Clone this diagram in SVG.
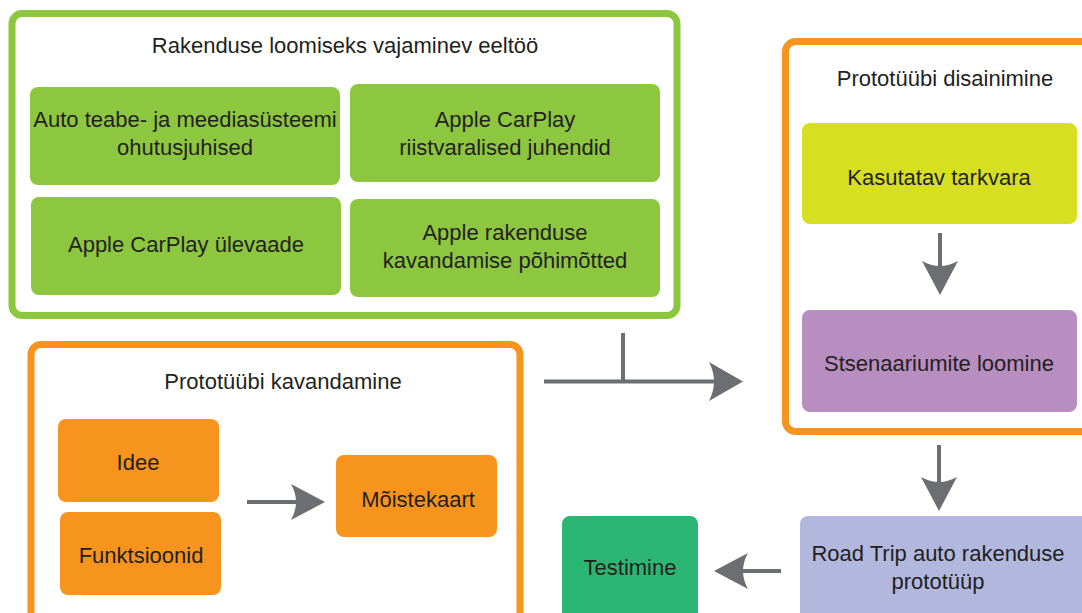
<svg xmlns="http://www.w3.org/2000/svg" width="1082" height="613" viewBox="0 0 1082 613">
<style>
text{font-family:"Liberation Sans",Arial,sans-serif;font-size:22px;fill:#231f20;text-anchor:middle}
.cg{fill:#fff;stroke:#8dc63f;stroke-width:7}
.co{fill:#fff;stroke:#f7941d;stroke-width:7}
.g{fill:#8dc63f}
.o{fill:#f7941d}
.ln{stroke:#6d6e71;stroke-width:4;fill:none}
.ah{fill:#6d6e71}
</style>
<rect width="1082" height="613" fill="#fff"/>
<g id="prep">
<rect class="cg" x="12" y="13.5" width="665" height="302" rx="10"/>
<text x="345" y="53">Rakenduse loomiseks vajaminev eeltöö</text>
</g>
<g id="n-ohutus"><rect class="g" x="30" y="87" width="310" height="98" rx="8"/><text x="185" y="127">Auto teabe- ja meediasüsteemi</text><text x="185" y="155">ohutusjuhised</text></g>
<g id="n-riistvara"><rect class="g" x="350" y="84" width="310" height="98" rx="8"/><text x="505" y="127">Apple CarPlay</text><text x="505" y="155">riistvaralised juhendid</text></g>
<g id="n-ulevaade"><rect class="g" x="31" y="197" width="310" height="98" rx="8"/><text x="186" y="252">Apple CarPlay ülevaade</text></g>
<g id="n-pohimotted"><rect class="g" x="350" y="199" width="310" height="98" rx="8"/><text x="505" y="240">Apple rakenduse</text><text x="505" y="268">kavandamise põhimõtted</text></g>

<g id="kavandamine">
<rect class="co" x="31" y="344.5" width="489" height="300" rx="10"/>
<text x="283" y="389">Prototüübi kavandamine</text>
</g>
<g id="n-idee"><rect class="o" x="58" y="419" width="161" height="83" rx="8"/><text x="138" y="470">Idee</text></g>
<g id="n-funktsioonid"><rect class="o" x="60" y="512" width="161" height="83" rx="8"/><text x="141" y="563">Funktsioonid</text></g>
<g id="n-moistekaart"><rect class="o" x="336" y="455" width="161" height="82" rx="8"/><text x="418" y="507">Mõistekaart</text></g>

<g id="disainimine">
<rect class="co" x="785.5" y="41.5" width="320" height="390" rx="10"/>
<text x="945" y="86">Prototüübi disainimine</text>
</g>
<g id="n-tarkvara"><rect fill="#d7df23" x="802" y="123" width="275" height="101" rx="8"/><text x="939" y="185">Kasutatav tarkvara</text></g>
<g id="n-stsenaariumid"><rect fill="#b88dc0" x="802" y="310" width="275" height="102" rx="8"/><text x="939" y="371">Stsenaariumite loomine</text></g>

<g id="n-prototuup"><rect fill="#b2b8dd" x="800" y="516" width="300" height="120" rx="8"/><text x="938" y="561">Road Trip auto rakenduse</text><text x="938" y="589">prototüüp</text></g>
<g id="n-testimine"><rect fill="#2bb673" x="562" y="516" width="136" height="120" rx="8"/><text x="630" y="575">Testimine</text></g>

<g id="connectors">
<path class="ln" d="M544,381.5H715M623,333V381.5"/>
<path class="ah" d="M743,381.5L709,362Q719,381.5 709,401Z"/>
<path class="ln" d="M247,502H298"/>
<path class="ah" d="M325,502L291,484Q301,502 291,520Z"/>
<path class="ln" d="M940,233V268"/>
<path class="ah" d="M940,295L922,261Q940,271 958,261Z"/>
<path class="ln" d="M939,445V483"/>
<path class="ah" d="M939,511L921,477Q939,487 957,477Z"/>
<path class="ln" d="M781,571H740"/>
<path class="ah" d="M714,571L748,553Q738,571 748,589Z"/>
</g>
</svg>
